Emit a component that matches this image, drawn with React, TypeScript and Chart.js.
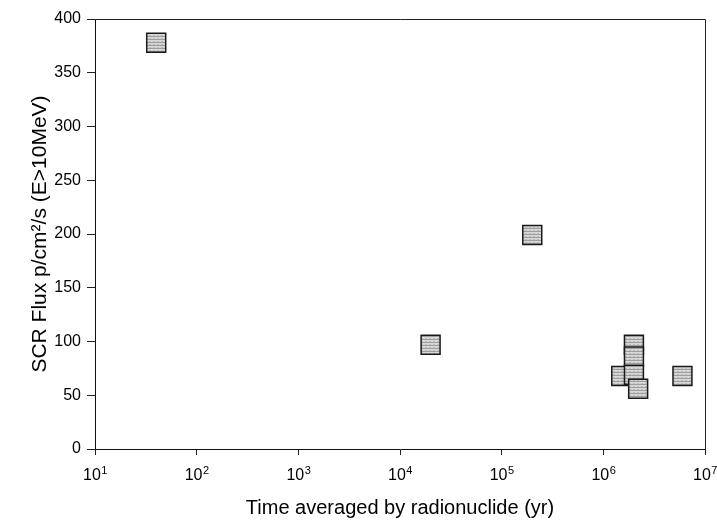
import React, { useEffect, useRef } from "react";
import { Chart, registerables } from "chart.js";

Chart.register(...registerables);

// Data
const timeYears: number[] = [40, 2e4, 2e5, 1.5e6, 2e6, 2e6, 2e6, 2.2e6, 6e6];
const fluxValues: number[] = [378, 97, 199, 68, 97, 86, 69, 56, 68];
const xTickValues: number[] = [1e1, 1e2, 1e3, 1e4, 1e5, 1e6, 1e7];
const xTickBase = "10";
const xTickExponents: string[] = ["1", "2", "3", "4", "5", "6", "7"];
const yTickValues: number[] = [0, 50, 100, 150, 200, 250, 300, 350, 400];
const xTitle = "Time averaged by radionuclide (yr)";
const yTitle = "SCR Flux p/cm²/s (E>10MeV)";

const FONT = "'Liberation Sans', Arial, Helvetica, sans-serif";

function makePattern(): CanvasPattern | string {
  const c = document.createElement("canvas");
  c.width = 4;
  c.height = 3;
  const g = c.getContext("2d");
  if (!g) return "#c8c8c8";
  g.fillStyle = "#d8d8d8";
  g.fillRect(0, 0, 4, 3);
  g.fillStyle = "#9e9e9e";
  g.fillRect(0, 0, 4, 1);
  g.fillStyle = "#bdbdbd";
  g.fillRect(1, 2, 2, 1);
  const p = g.createPattern(c, "repeat");
  return p || "#c8c8c8";
}

const framePlugin = {
  id: "frame",
  afterDraw(chart: any) {
    const { ctx, chartArea } = chart;
    ctx.save();
    ctx.strokeStyle = "#222";
    ctx.lineWidth = 1;
    ctx.beginPath();
    ctx.moveTo(chartArea.left, chartArea.top + 0.5);
    ctx.lineTo(chartArea.right + 0.5, chartArea.top + 0.5);
    ctx.lineTo(chartArea.right + 0.5, chartArea.bottom);
    ctx.stroke();
    ctx.restore();
  },
};

const powerLabelsPlugin = {
  id: "powerLabels",
  afterDraw(chart: any) {
    const { ctx } = chart;
    const xs = chart.scales.x;
    ctx.save();
    ctx.fillStyle = "#000";
    ctx.textBaseline = "alphabetic";
    ctx.textAlign = "left";
    const baseY = xs.top + 31;
    xTickValues.forEach((v, i) => {
      const px = xs.getPixelForValue(v);
      ctx.font = `16px ${FONT}`;
      const wb = ctx.measureText(xTickBase).width;
      ctx.font = `11px ${FONT}`;
      const we = ctx.measureText(xTickExponents[i]).width;
      const start = px - (wb + we) / 2;
      ctx.font = `16px ${FONT}`;
      ctx.fillText(xTickBase, start, baseY);
      ctx.font = `11px ${FONT}`;
      ctx.fillText(xTickExponents[i], start + wb + 0.5, baseY - 6);
    });
    ctx.restore();
  },
};

export default function App() {
  const ref = useRef<HTMLCanvasElement | null>(null);

  useEffect(() => {
    document.body.style.margin = "0";
    const canvas = ref.current;
    if (!canvas) return;
    const fill = makePattern();
    const chart = new Chart(canvas, {
      type: "scatter",
      data: {
        datasets: [
          {
            data: timeYears.map((x, i) => ({ x, y: fluxValues[i] })),
            pointStyle: "rect",
            pointRadius: 13.4,
            pointHoverRadius: 13.4,
            backgroundColor: fill as any,
            borderColor: "#1a1a1a",
            pointBorderWidth: 1.5,
            borderWidth: 1.5,
          },
        ],
      },
      options: {
        responsive: false,
        animation: false,
        events: [],
        layout: {
          autoPadding: false,
          padding: { top: 19, right: 12, left: 0, bottom: 0 },
        },
        plugins: {
          legend: { display: false },
          tooltip: { enabled: false },
        },
        scales: {
          x: {
            type: "logarithmic",
            min: 10,
            max: 1e7,
            afterBuildTicks: (scale: any) => {
              scale.ticks = xTickValues.map((v) => ({ value: v }));
            },
            afterFit: (scale: any) => {
              scale.height = 73;
              scale.paddingLeft = 0;
              scale.paddingRight = 0;
            },
            grid: {
              drawOnChartArea: false,
              drawTicks: true,
              tickLength: 6,
              color: "#222",
            },
            border: { display: true, color: "#111", width: 1 },
            ticks: {
              display: false,
              autoSkip: false,
              maxRotation: 0,
            },
            title: {
              display: true,
              text: xTitle,
              color: "#000",
              font: { family: FONT, size: 20 },
              padding: { top: 0, bottom: 2 },
            },
          },
          y: {
            type: "linear",
            min: 0,
            max: 400,
            afterBuildTicks: (scale: any) => {
              scale.ticks = yTickValues.map((v) => ({ value: v }));
            },
            afterFit: (scale: any) => {
              scale.width = 95;
              scale.paddingTop = 0;
              scale.paddingBottom = 0;
            },
            grid: {
              drawOnChartArea: false,
              drawTicks: true,
              tickLength: 8,
              color: "#222",
            },
            border: { display: true, color: "#111", width: 1 },
            ticks: {
              autoSkip: false,
              padding: 6,
              color: "#000",
              font: { family: FONT, size: 16 },
              callback: (v: any) => String(v),
            },
            title: {
              display: true,
              text: yTitle,
              color: "#000",
              font: { family: FONT, size: 21 },
              padding: { top: 28, bottom: 0 },
            },
          },
        },
      },
      plugins: [framePlugin, powerLabelsPlugin],
    });
    return () => chart.destroy();
  }, []);

  return (
    <canvas
      ref={ref}
      width={717}
      height={522}
      style={{ display: "block", width: 717, height: 522 }}
    />
  );
}
